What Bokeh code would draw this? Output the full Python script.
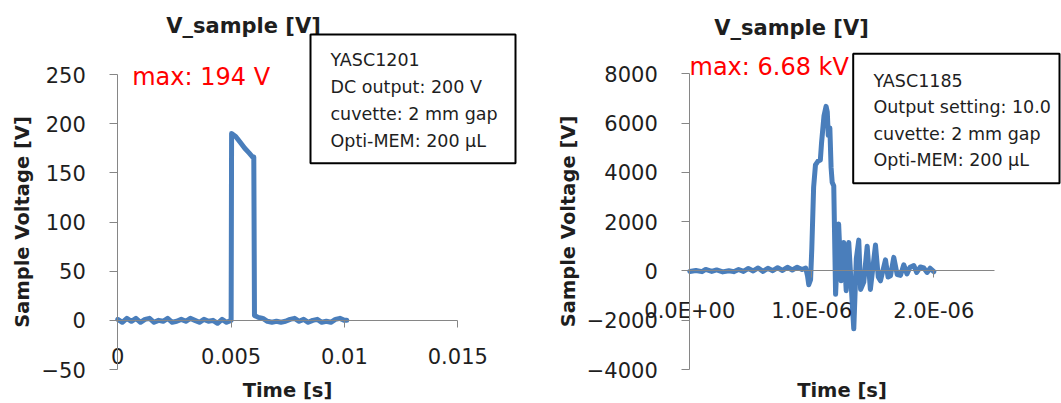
from bokeh.plotting import figure
from bokeh.models import Range1d, FixedTicker, Label, BoxAnnotation
from bokeh.layouts import row
from bokeh.embed import file_html
from bokeh.resources import INLINE

FONT = "DejaVu Sans"
BLUE = "#4a7ebb"
AXIS = "#868686"
TXT = "#1e1e1e"

# ---------------- data: chart 1 (DC pulse) ----------------
t1 = [0.0000, 0.0002, 0.0004, 0.0006, 0.0008, 0.0010, 0.0012, 0.0014, 0.0016, 0.0018,
      0.0020, 0.0022, 0.0024, 0.0026, 0.0028, 0.0030, 0.0032, 0.0034, 0.0036, 0.0038,
      0.0040, 0.0042, 0.0044, 0.0046, 0.0048, 0.0050,
      0.00502, 0.0052, 0.0054, 0.0056, 0.0058, 0.00595, 0.00600, 0.00603,
      0.0062, 0.0064, 0.0066, 0.0068, 0.0070, 0.0072, 0.0074, 0.0076, 0.0078, 0.0080,
      0.0082, 0.0084, 0.0086, 0.0088, 0.0090, 0.0092, 0.0094, 0.0096, 0.0098, 0.0100, 0.0101]
v1 = [1, -2, 2, -1, 2, -2, 1, 2, -2, 0,
      -1, 2, -2, -1, 1, -1, 2, 0, -2, 1,
      -1, 0, -3, 1, -2, 0,
      190, 187, 181, 175, 170, 166, 166, 5,
      3, 2, -1, -2, -1, -2, -1, 1, 2, -1,
      1, -2, 0, 1, -2, -1, -2, 1, 2, 0, 0]
xticks1 = [0, 0.005, 0.01, 0.015]
xlabels1 = ["0", "0.005", "0.01", "0.015"]
yticks1 = [-50, 0, 50, 100, 150, 200, 250]
title1 = "V_sample [V]"
max1 = "max: 194 V"
info1 = ["YASC1201", "DC output: 200 V", "cuvette: 2 mm gap", "Opti-MEM: 200 \u03bcL"]

# ---------------- data: chart 2 (HV pulse) ----------------
t2_us = [0.00, 0.05, 0.10, 0.13, 0.18, 0.22, 0.27, 0.32, 0.36, 0.40,
         0.44, 0.48, 0.52, 0.56, 0.60, 0.64, 0.68, 0.72, 0.76, 0.80,
         0.84, 0.88, 0.92, 0.95, 0.965, 0.975, 0.99, 1.00, 1.015, 1.03,
         1.05, 1.07, 1.08, 1.10, 1.117, 1.127, 1.135, 1.148, 1.158, 1.167,
         1.18, 1.195, 1.22, 1.24, 1.262, 1.282, 1.303, 1.322, 1.344, 1.365,
         1.385, 1.40, 1.426, 1.454, 1.48, 1.522, 1.545, 1.563, 1.604, 1.625,
         1.645, 1.672, 1.70, 1.727, 1.754, 1.78, 1.805, 1.836, 1.86, 1.89,
         1.918, 1.945, 1.97, 2.00]
v2 = [-20, 20, -30, 60, -20, 40, -40, 10, -30, 60,
      -20, 100, 0, 120, -20, 110, 10, 130, 20, 150,
      40, 150, 60, 120, -200, -560, -350, 900, 3400, 4300,
      4450, 4500, 5200, 6300, 6680, 6450, 5500, 5800, 4200, 3600,
      3450, -950, 1900, -400, 1150, -800, 1150, -500, -2350, 500,
      1250, -750, -450, 1000, -750, 1050, -250, -400, 450, -250,
      -200, 550, -150, -180, 250, -120, 150, 220, -60, 160,
      120, -60, 110, -30]
t2 = [t * 1e-6 for t in t2_us]
xticks2 = [0, 1e-6, 2e-6]
xlabels2 = ["0.0E+00", "1.0E-06", "2.0E-06"]
yticks2 = [-4000, -2000, 0, 2000, 4000, 6000, 8000]
title2 = "V_sample [V]"
max2 = "max: 6.68 kV"
info2 = ["YASC1185", "Output setting: 10.0", "cuvette: 2 mm gap", "Opti-MEM: 200 \u03bcL"]


def make_chart(t, v, xb, yb, xticks, xlabels, yticks, width, height,
               fig_x, fig_y, ax_left, ax_top, ax_w, ax_h, x_label_standoff, y_label_standoff,
               title, title_pos, maxtxt, max_pos, box, info, info_x, info_ys):
    # layout: axis box in page pixels -> data ranges covering the whole figure
    def dx(xp):
        return xb[0] + (xp - ax_left) / ax_w * (xb[1] - xb[0])
    def dy(yp):
        return yb[1] - (yp - ax_top) / ax_h * (yb[1] - yb[0])

    p = figure(width=width, height=height,
               x_range=Range1d(dx(fig_x), dx(fig_x + width)),
               y_range=Range1d(dy(fig_y + height), dy(fig_y)),
               output_backend="svg", toolbar_location=None,
               min_border=0, min_border_left=0, min_border_right=0,
               min_border_top=0, min_border_bottom=0)
    p.title.visible = False
    p.outline_line_color = None
    p.xgrid.visible = False
    p.ygrid.visible = False
    p.background_fill_color = "white"
    p.border_fill_color = "white"

    p.line(t, v, line_color=BLUE, line_width=5, line_join="round", line_cap="round")

    # axes (crossing at 0, limited to the chart's extent)
    xa = p.xaxis[0]
    xa.fixed_location = 0
    xa.bounds = xb
    xa.ticker = FixedTicker(ticks=xticks)
    xa.major_label_overrides = {k: s for k, s in zip(xticks, xlabels)}
    ya = p.yaxis[0]
    ya.fixed_location = xb[0]
    ya.bounds = yb
    ya.ticker = FixedTicker(ticks=yticks)
    for ax in (xa, ya):
        ax.axis_line_color = AXIS
        ax.major_tick_line_color = AXIS
        ax.minor_tick_line_color = None
        ax.major_tick_in = 0
        ax.major_label_text_font = FONT
        ax.major_label_text_font_size = "21px"
        ax.major_label_text_color = TXT
        ax.axis_label_text_font = FONT
        ax.axis_label_text_font_size = "19.5px"
        ax.axis_label_text_font_style = "bold"
        ax.axis_label_text_color = TXT
    xa.major_tick_out = 7
    xa.major_label_standoff = 21
    xa.axis_label = "Time [s]"
    xa.axis_label_standoff = x_label_standoff
    ya.major_tick_out = 8
    ya.major_label_standoff = 24
    ya.axis_label = "Sample Voltage [V]"
    ya.axis_label_standoff = y_label_standoff

    # chart title
    p.add_layout(Label(x=dx(title_pos[0]), y=dy(title_pos[1]), text=title,
                       text_font=FONT, text_font_size="21px", text_font_style="bold",
                       text_color=TXT, text_align="center", text_baseline="middle"))
    # max annotation
    p.add_layout(Label(x=dx(max_pos[0]), y=dy(max_pos[1]), text=maxtxt,
                       text_font=FONT, text_font_size="24px", text_color="#ff0000",
                       text_align="left", text_baseline="middle"))
    # info box
    p.add_layout(BoxAnnotation(left=dx(box[0]), right=dx(box[2]), top=dy(box[1]), bottom=dy(box[3]),
                               fill_color="white", fill_alpha=1.0, line_color="black",
                               line_width=2, line_alpha=1.0))
    for s, yp in zip(info, info_ys):
        p.add_layout(Label(x=dx(info_x), y=dy(yp), text=s, text_font=FONT,
                           text_font_size="17.5px", text_color=TXT,
                           text_align="left", text_baseline="middle"))
    return p


p1 = make_chart(t1, v1, (0, 0.015), (-50, 250), xticks1, xlabels1, yticks1,
                530, 403, 0, 0, 117.3, 74, 340, 295, 11, 4,
                title1, (243, 25), max1, (131.7, 76.5),
                (310, 34, 515, 162.7), info1, 330, [59, 86, 113, 140])
p2 = make_chart(t2, v2, (0, 2.5e-6), (-4000, 8000), xticks2, xlabels2, yticks2,
                531, 403, 530, 0, 689.3, 73.3, 305, 295.7, 53, 3,
                title2, (791, 27), max2, (689, 66),
                (852.7, 53.3, 1059, 182.7), info2, 873, [80, 106, 133, 159])

layout = row(p1, p2)
open("out.html", "w").write(file_html(layout, INLINE))
